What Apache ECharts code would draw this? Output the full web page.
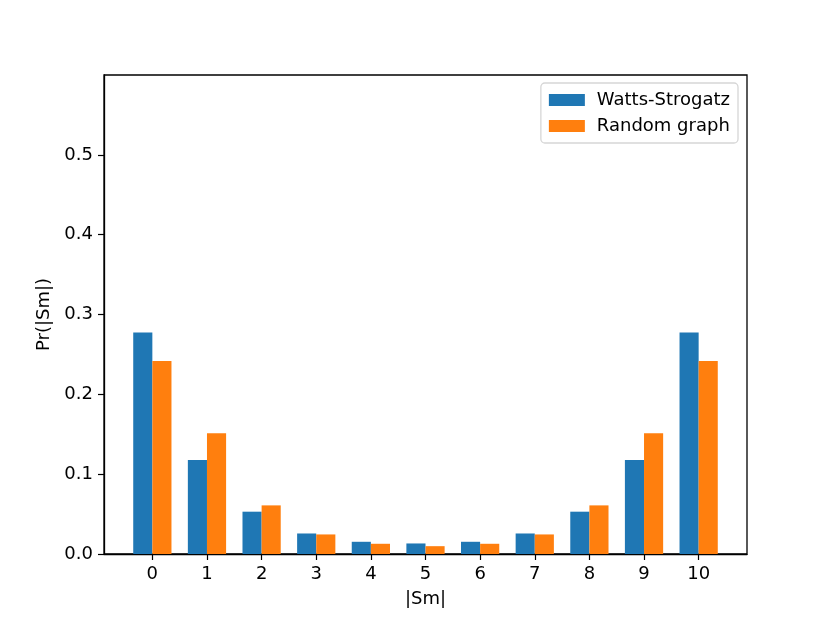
<!DOCTYPE html>
<html>
<head>
<meta charset="utf-8">
<script src="https://cdn.jsdelivr.net/npm/echarts@6/dist/echarts.min.js"></script>
<style>
  html, body { margin: 0; padding: 0; background: #fff; }
  #chart { width: 830px; height: 623px; }
</style>
</head>
<body>
<div id="chart"></div>
<script>
// |Sm| categories
var sizes = [0, 1, 2, 3, 4, 5, 6, 7, 8, 9, 10]
var wattsStrogatz = [0.2775, 0.1177, 0.0530, 0.0257, 0.0153, 0.0132, 0.0153, 0.0257, 0.0530, 0.1177, 0.2775]
var randomGraph = [0.2419, 0.1512, 0.0609, 0.0245, 0.0128, 0.0098, 0.0128, 0.0245, 0.0609, 0.1512, 0.2419]
var yTicks = [0, 0.1, 0.2, 0.3, 0.4, 0.5]

var xMin = -0.885, xMax = 10.885
var grid = { left: 104, right: 83, top: 75, bottom: 69 }
var plotW = 830 - grid.left - grid.right
var barW = plotW / (xMax - xMin) * 0.35

var chart = echarts.init(document.getElementById('chart'))
var font = 'DejaVu Sans'
var fs = 18

chart.setOption({
  animation: false,
  textStyle: { fontFamily: font },
  grid: {
    left: grid.left, right: grid.right, top: grid.top, bottom: grid.bottom,
    show: true, borderColor: '#000', borderWidth: 1.3, backgroundColor: 'transparent'
  },
  legend: {
    orient: 'vertical',
    right: 92,
    top: 83,
    itemWidth: 36,
    itemHeight: 12,
    itemGap: 8,
    padding: [8, 8, 8, 8],
    borderColor: '#d6d6d6',
    borderWidth: 1.3,
    borderRadius: 4,
    icon: 'rect',
    textStyle: { fontSize: fs, color: '#000', fontFamily: font, padding: [0, 0, 0, 7] },
    data: ['Watts-Strogatz', 'Random graph']
  },
  xAxis: {
    type: 'value',
    min: xMin,
    max: xMax,
    name: '|Sm|',
    nameLocation: 'middle',
    nameGap: 36,
    nameTextStyle: { fontSize: fs, color: '#000', fontFamily: font },
    splitLine: { show: false },
    axisLine: { show: true, onZero: false, lineStyle: { color: '#000', width: 1.3 } },
    axisTick: { show: true, length: 6, lineStyle: { color: '#000', width: 1.2 }, customValues: sizes },
    axisLabel: { fontSize: fs, color: '#000', margin: 11, customValues: sizes, fontFamily: font }
  },
  yAxis: {
    type: 'value',
    min: 0,
    max: 0.6,
    name: 'Pr(|Sm|)',
    nameLocation: 'middle',
    nameGap: 51,
    nameTextStyle: { fontSize: fs, color: '#000', fontFamily: font },
    splitLine: { show: false },
    axisLine: { show: true, onZero: false, lineStyle: { color: '#000', width: 1.3 } },
    axisTick: { show: true, length: 6, lineStyle: { color: '#000', width: 1.2 }, customValues: yTicks },
    axisLabel: {
      fontSize: fs, color: '#000', margin: 11, fontFamily: font,
      customValues: yTicks,
      formatter: function (v) { return v.toFixed(1) }
    }
  },
  series: [
    {
      name: 'Watts-Strogatz',
      type: 'bar',
      barWidth: barW,
      barGap: '0%',
      itemStyle: { color: '#1f77b4' },
      data: sizes.map(function (s, i) { return [s, wattsStrogatz[i]] })
    },
    {
      name: 'Random graph',
      type: 'bar',
      barWidth: barW,
      barGap: '0%',
      itemStyle: { color: '#ff7f0e' },
      data: sizes.map(function (s, i) { return [s, randomGraph[i]] })
    }
  ]
})
</script>
</body>
</html>
